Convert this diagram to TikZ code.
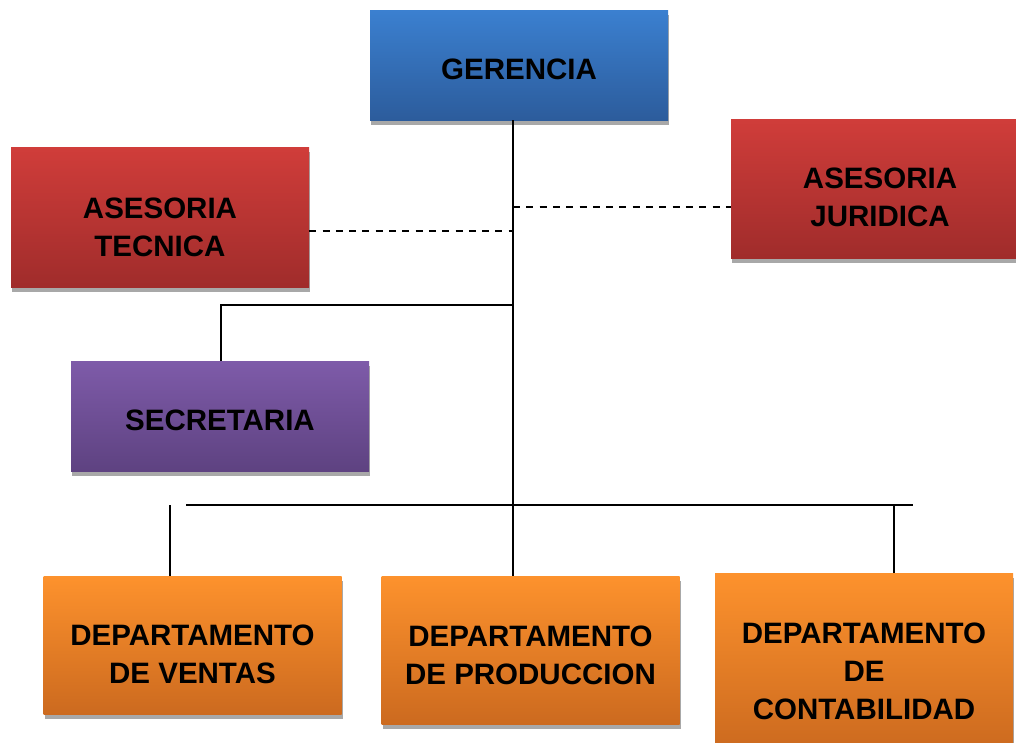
\documentclass[tikz,border=0pt]{standalone}
\usepackage{fontspec}
\setmainfont{Liberation Sans}
\usetikzlibrary{shadows}
\definecolor{blueT}{HTML}{3B80D0}
\definecolor{blueB}{HTML}{2C5C9C}
\definecolor{redT}{HTML}{D03D3A}
\definecolor{redB}{HTML}{A02C2B}
\definecolor{purT}{HTML}{7E5BA9}
\definecolor{purB}{HTML}{5E4281}
\definecolor{orT}{HTML}{FD922D}
\definecolor{orB}{HTML}{CC6A1F}
\definecolor{shad}{HTML}{A8A8A8}
\newcommand{\boxtext}[2]{\raisebox{#1}[\height][\depth]{\begin{tabular}{@{}c@{}}#2\end{tabular}}}
\tikzset{
  orgbox/.style={rectangle, inner sep=0pt, minimum width=298pt,
    font=\fontsize{29.5}{38}\selectfont\bfseries, text=black, align=center,
    drop shadow={shadow xshift=1pt, shadow yshift=-4.5pt, fill=shad, opacity=1}},
  bluebox/.style={orgbox, top color=blueT, bottom color=blueB},
  redbox/.style={orgbox, top color=redT, bottom color=redB},
  purbox/.style={orgbox, top color=purT, bottom color=purB},
  orbox/.style={orgbox, top color=orT, bottom color=orB},
  link/.style={line width=1.6pt, black},
  dlink/.style={line width=1.4pt, black, dash pattern=on 7pt off 6.3pt},
}
\begin{document}
\begin{tikzpicture}[x=1pt,y=-1pt]
\useasboundingbox (0,0) rectangle (1016,742);
\node[bluebox, minimum height=110pt] (ger) at (519,65) {\boxtext{-7pt}{GERENCIA}};
\node[redbox, minimum height=140pt] (tec) at (160,217) {\boxtext{-13pt}{ASESORIA\\TECNICA}};
\node[redbox, minimum height=139pt] (jur) at (880,188.5) {\boxtext{-11.5pt}{ASESORIA\\JURIDICA}};
\node[purbox, minimum height=110pt] (sec) at (220,416) {\boxtext{-7pt}{SECRETARIA}};
\node[orbox, minimum height=138pt] (ven) at (192.5,645) {\boxtext{-12pt}{DEPARTAMENTO\\DE VENTAS}};
\node[orbox, minimum height=148pt] (pro) at (530.5,650) {\boxtext{-8pt}{DEPARTAMENTO\\DE PRODUCCION}};
\node[orbox, minimum height=176pt] (con) at (864,661) {\boxtext{-13pt}{DEPARTAMENTO\\DE\\CONTABILIDAD}};
\coordinate (trunk) at (513,120);
\coordinate (j1) at (513,231);
\coordinate (j2) at (513,207);
\coordinate (j3) at (513,305);
\coordinate (hl) at (186,505);
\coordinate (hr) at (913,505);
\coordinate (vl) at (170,505);
\draw[link] (trunk) -- (pro.north -| trunk);
\draw[dlink] (tec.east |- j1) -- (j1);
\draw[dlink] (j2) -- (jur.west |- j2);
\draw[link] (j3) -| (sec.north -| 221,0);
\draw[link] (hl) -- (hr);
\draw[link] (vl) -- (ven.north -| vl);
\draw[link] (894,505) -- (con.north -| 894,0);
\end{tikzpicture}
\end{document}
